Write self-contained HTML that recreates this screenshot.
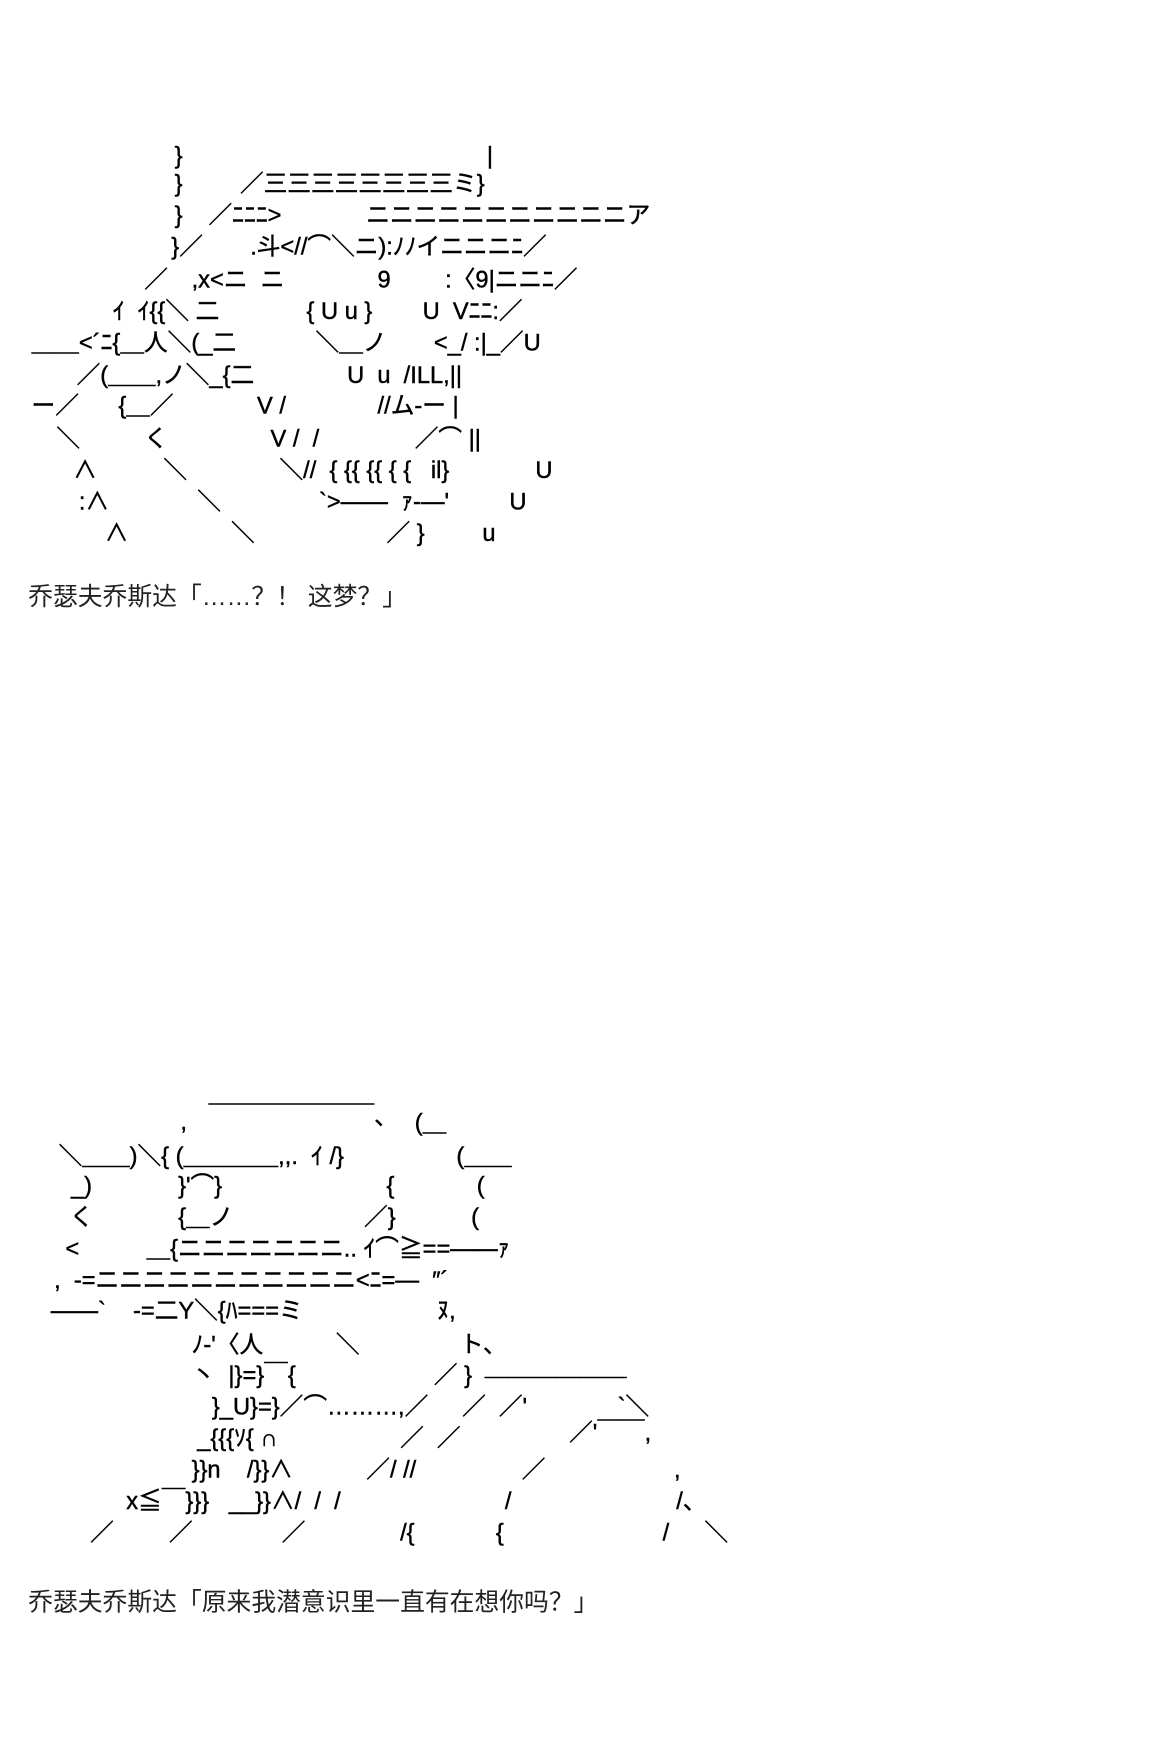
<!DOCTYPE html>
<html><head><meta charset="utf-8"><style>
html,body{margin:0;padding:0;background:#fff;width:1154px;height:1762px;overflow:hidden}
#w{position:absolute;left:0;top:0;width:1024px;height:1564px;transform:scale(1.127);transform-origin:0 0}
#w span{position:absolute;white-space:pre;font-family:"Liberation Sans","Noto Sans CJK JP",sans-serif;font-size:21px;line-height:22px;color:#000;-webkit-text-stroke:0.4px #000}
#w .c{font-size:22px;line-height:26px;color:#222;font-family:"Liberation Sans","Noto Sans CJK SC",sans-serif;-webkit-text-stroke:0}
</style></head><body><div id="w">
<span style="left:155px;top:128px">}</span><span style="left:432px;top:128px">|</span>
<span style="left:155px;top:153px">}</span><span style="left:213px;top:153px">／三三三三三三三三ミ}</span>
<span style="left:155px;top:181px">}</span><span style="left:185px;top:181px">／ﾆﾆﾆ&gt;</span><span style="left:325px;top:181px">ニニニニニニニニニニニア</span>
<span style="left:152px;top:209px">}／</span><span style="left:222px;top:209px">.斗&lt;//⌒＼ニ):ﾉﾉイニニニﾆ／</span>
<span style="left:128px;top:238px">／</span><span style="left:170px;top:238px">,x&lt;ニ  ニ</span><span style="left:335px;top:238px">9</span><span style="left:395px;top:238px">:〈9|ニニﾆ／</span>
<span style="left:100px;top:266px">ｲ  ｲ{{＼ 二</span><span style="left:272px;top:266px">{ U u }</span><span style="left:375px;top:266px">U  Vﾆﾆ:／</span>
<span style="left:28px;top:294px">＿＿&lt;´ﾆ{＿人＼(_二</span><span style="left:280px;top:294px">＼＿ノ</span><span style="left:385px;top:294px">&lt;_/ :|_／U</span>
<span style="left:68px;top:323px">／(＿＿,ノ＼_{二</span><span style="left:308px;top:323px">U  u  /ILL,||</span>
<span style="left:28px;top:350px">ー／</span><span style="left:105px;top:350px">{＿／</span><span style="left:228px;top:350px">V /</span><span style="left:335px;top:350px">//ム-ー |</span>
<span style="left:50px;top:379px">＼</span><span style="left:128px;top:379px">く</span><span style="left:240px;top:379px">V /  /</span><span style="left:368px;top:379px">／⌒ ||</span>
<span style="left:65px;top:407px">∧</span><span style="left:145px;top:407px">＼</span><span style="left:248px;top:407px">＼//  { {{ {{ { {   il}</span><span style="left:475px;top:407px">U</span>
<span style="left:70px;top:435px">:∧</span><span style="left:175px;top:435px">＼</span><span style="left:283px;top:435px">`&gt;――  ｧ-―'</span><span style="left:452px;top:435px">U</span>
<span style="left:93px;top:463px">∧</span><span style="left:205px;top:463px">＼</span><span style="left:343px;top:463px">／ }</span><span style="left:428px;top:463px">u</span>
<span class="c" style="left:25px;top:517px">乔瑟夫乔斯达「……？！ 这梦？」</span>

<span style="left:160px;top:985px">,</span><span style="left:185px;top:981px">￣￣￣￣￣￣￣、</span><span style="left:368px;top:986px">(＿</span>
<span style="left:52px;top:1016px">＼＿＿)＼{ (＿＿＿＿,,.  ｲ /}</span><span style="left:405px;top:1016px">(＿＿</span>
<span style="left:63px;top:1042px">_)</span><span style="left:158px;top:1042px">}'⌒}</span><span style="left:343px;top:1042px">{</span><span style="left:423px;top:1042px">(</span>
<span style="left:62px;top:1070px">く</span><span style="left:158px;top:1070px">{＿ノ</span><span style="left:323px;top:1070px">／}</span><span style="left:418px;top:1070px">(</span>
<span style="left:58px;top:1098px">&lt;</span><span style="left:130px;top:1098px">＿{ニニニニニニニ.. ｲ⌒≧==――ｧ</span>
<span style="left:48px;top:1126px">,  -=ニニニニニニニニニニニ&lt;ﾆ=―  ″´</span>
<span style="left:45px;top:1153px">――`</span><span style="left:118px;top:1153px">-=二Y＼{ﾊ===ミ</span><span style="left:388px;top:1153px">ﾇ,</span>
<span style="left:170px;top:1183px">ﾉ-'〈人</span><span style="left:298px;top:1183px">＼</span><span style="left:408px;top:1183px">ト、</span>
<span style="left:170px;top:1210px">丶  |}=}￣{</span><span style="left:385px;top:1210px">／ }</span><span style="left:430px;top:1203px">＿＿＿＿＿＿</span>
<span style="left:188px;top:1238px">}_U}=}／⌒………,／</span><span style="left:410px;top:1238px">／  ／'</span><span style="left:548px;top:1238px">`＼</span>
<span style="left:175px;top:1266px">_{{{ｿ{ ∩</span><span style="left:355px;top:1266px">／  ／</span><span style="left:505px;top:1261px">／'￣￣,</span>
<span style="left:170px;top:1294px">}}n    /}}∧</span><span style="left:325px;top:1294px">／/ //</span><span style="left:463px;top:1294px">／</span><span style="left:598px;top:1294px">,</span>
<span style="left:112px;top:1322px">x≦￣}}}   __}}∧/  /  /</span><span style="left:448px;top:1322px">/</span><span style="left:600px;top:1322px">/、</span>
<span style="left:80px;top:1350px">／</span><span style="left:150px;top:1350px">／</span><span style="left:250px;top:1350px">／</span><span style="left:355px;top:1350px">/{</span><span style="left:440px;top:1350px">{</span><span style="left:588px;top:1350px">/</span><span style="left:625px;top:1350px">＼</span>
<span class="c" style="left:25px;top:1409px">乔瑟夫乔斯达「原来我潜意识里一直有在想你吗？」</span>
</div></body></html>
